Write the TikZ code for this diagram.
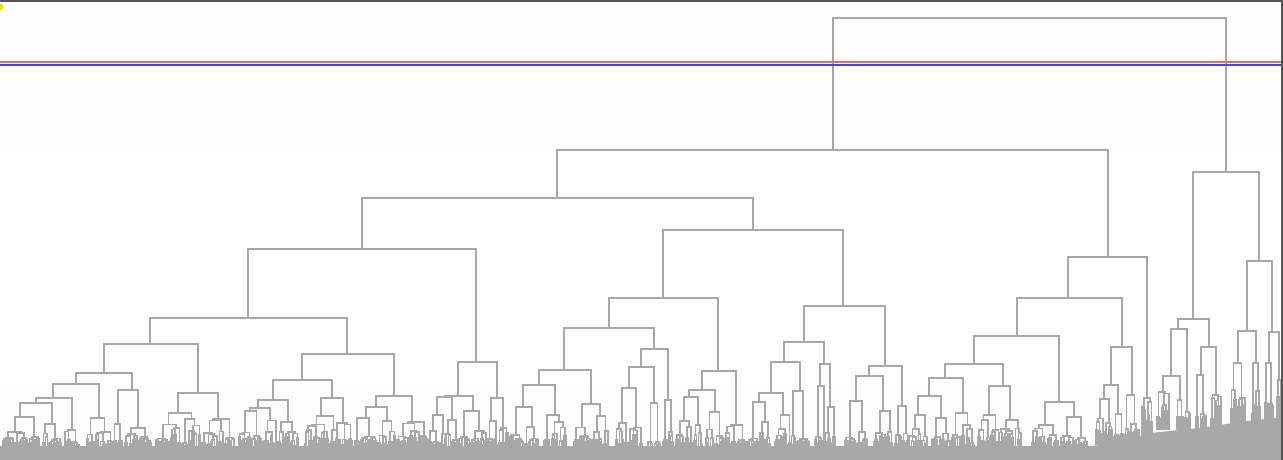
\documentclass[tikz,border=0pt]{standalone}
\usepackage{tikz}
\definecolor{lg}{RGB}{168,168,168}
\definecolor{frame}{RGB}{85,85,85}
\definecolor{cutblue}{RGB}{70,70,215}
\definecolor{cutred}{RGB}{230,110,110}
\tikzset{dl/.style={draw=lg, line width=1.7pt}}
\def\dbot{450}\def\dk{7}\def\dleaf{2.4}
\newcommand\dbr[5]{\draw[dl] (#1,#4) -- (#1,#3) -- (#2,#3) -- (#2,#5);}
\newcommand\dheight[3]{%
  \ifdim#2pt<\dleaf pt \edef#1{\dbot}\else
  \pgfmathsetmacro#1{min(max(#3+1.5, \dbot-\dk*sqrt(#2)*(0.4+0.8*rnd)), \dbot-1)}\fi}
\newcommand\dtree[3]{%
  \begingroup
  \pgfmathsetmacro\dW{#2-(#1)}%
  \pgfmathsetmacro\dS{#1+(0.25+0.5*rnd)*\dW}%
  \pgfmathsetmacro\dCa{(#1+\dS)/2}%
  \pgfmathsetmacro\dCb{(\dS+#2)/2}%
  \pgfmathsetmacro\dWa{\dS-(#1)}%
  \pgfmathsetmacro\dWb{#2-\dS}%
  \dheight\dYa\dWa{#3}%
  \dheight\dYb\dWb{#3}%
  \draw[dl] (\dCa,\dYa) -- (\dCa,#3) -- (\dCb,#3) -- (\dCb,\dYb);
  \ifdim\dWa pt<\dleaf pt\else \edef\dnext{\noexpand\dtree{#1}{\dS}{\dYa}}\dnext\fi
  \ifdim\dWb pt<\dleaf pt\else \edef\dnext{\noexpand\dtree{\dS}{#2}{\dYb}}\dnext\fi
  \endgroup}
\newcommand\dgen[3]{\pgfmathsetmacro\dgl{#1-#2}\pgfmathsetmacro\dgr{#1+#2}%
  \edef\dnext{\noexpand\dtree{\dgl}{\dgr}{#3}}\dnext}
\begin{document}
\begin{tikzpicture}[x=1pt,y=-1pt]
\pgfmathsetseed{7}
\useasboundingbox (0,0) rectangle (1283,460);
\fill[white] (0,0) rectangle (1283,460);
\fill[black!1.2] (0,0) rectangle (1283,152);
\fill[black!1] (0,385) rectangle (1283,460);
% upper structure
\dbr{833}{1226}{18}{150}{172}
\dbr{557}{1108}{150}{198}{257}
\dbr{362}{753}{198}{249}{230}
\dbr{248}{476}{249}{318}{362}
\dbr{150}{347}{318}{344}{354}
\dbr{104}{198}{344}{373}{393}
\dbr{76}{132}{373}{384}{390}
\dbr{53}{99}{384}{398}{418}
\dbr{36}{72}{398}{403}{430}
\dbr{20}{52}{403}{417}{424}
\dgen{21}{19}{417}
\dgen{52}{10}{424}
\dgen{72}{8}{430}
\dgen{100}{14}{418}
\dgen{132}{20}{390}
\dbr{178}{218}{393}{413}{419}
\dgen{178}{23}{413}
\dgen{218}{17}{419}
\dbr{302}{394}{354}{380}{396}
\dbr{273}{332}{380}{400}{398}
\dbr{258}{288}{400}{408}{422}
\dgen{258}{20}{408}
\dgen{288}{11}{422}
\dbr{321}{343}{398}{416}{423}
\dgen{321}{17}{416}
\dgen{343}{10}{423}
\dbr{376}{412}{396}{407}{422}
\dbr{366}{387}{407}{418}{421}
\dgen{366}{12}{418}
\dgen{387}{9}{421}
\dgen{412}{16}{422}
\dbr{458}{497}{362}{396}{398}
\dbr{445}{473}{396}{397}{411}
\dbr{437}{452}{397}{415}{420}
\dgen{437}{10}{415}
\dgen{452}{8}{420}
\dgen{473}{15}{411}
\dgen{497}{12}{398}
\dbr{663}{843}{230}{298}{306}
\dbr{609}{718}{298}{328}{371}
\dbr{564}{654}{328}{370}{349}
\dbr{539}{591}{370}{385}{404}
\dbr{523}{555}{385}{407}{415}
\dgen{523}{16}{407}
\dgen{555}{12}{415}
\dgen{591}{18}{404}
\dbr{641}{668}{349}{367}{400}
\dbr{629}{654}{367}{388}{403}
\dgen{629}{14}{388}
\dgen{654}{7}{403}
\dgen{668}{6}{400}
\dbr{702}{736}{371}{390}{425}
\dbr{689}{715}{390}{397}{412}
\dgen{689}{14}{397}
\dgen{715}{10}{412}
\dgen{736}{12}{425}
\dbr{804}{885}{306}{342}{366}
\dbr{784}{824}{342}{362}{364}
\dbr{771}{800}{362}{393}{391}
\dbr{759}{783}{393}{402}{415}
\dgen{759}{12}{402}
\dgen{783}{9}{415}
\dgen{800}{10}{391}
\dbr{820}{830}{364}{386}{407}
\dgen{820}{6}{386}
\dgen{830}{6}{407}
\dbr{869}{902}{366}{376}{406}
\dbr{856}{883}{376}{401}{411}
\dgen{856}{12}{401}
\dgen{883}{10}{411}
\dgen{902}{8}{406}
\dbr{1068}{1147}{257}{298}{398}
\dbr{1017}{1122}{298}{336}{347}
\dbr{974}{1059}{336}{364}{402}
\dbr{945}{1003}{364}{378}{386}
\dbr{929}{963}{378}{396}{413}
\dbr{918}{941}{396}{415}{418}
\dgen{918}{10}{415}
\dgen{941}{10}{418}
\dgen{963}{12}{413}
\dbr{989}{1010}{386}{415}{420}
\dgen{989}{12}{415}
\dgen{1010}{12}{420}
\dbr{1045}{1074}{402}{425}{417}
\dgen{1045}{14}{425}
\dgen{1074}{14}{417}
\def\dbot{445}\def\dk{9}
\dbr{1111}{1132}{347}{385}{395}
\dbr{1104}{1118}{385}{399}{414}
\dgen{1104}{9}{399}
\dgen{1118}{6}{414}
\dgen{1132}{8}{395}
\def\dbot{436}\def\dk{11}
\dgen{1147}{6}{398}
\def\dbot{430}\def\dk{12}
\dbr{1193}{1259}{172}{319}{261}
\dbr{1178}{1209}{319}{329}{347}
\dbr{1171}{1187}{329}{376}{412}
\dbr{1163}{1180}{376}{392}{400}
\dgen{1163}{7}{392}
\dgen{1180}{4}{400}
\dgen{1187}{4}{412}
\dbr{1201}{1216}{347}{375}{395}
\dgen{1201}{6}{375}
\dgen{1216}{6}{395}
\def\dbot{424}
\dbr{1247}{1272}{261}{331}{332}
\dbr{1238}{1256}{331}{363}{363}
\dgen{1238}{8}{363}
\dgen{1256}{5}{363}
\dbr{1269}{1279}{332}{363}{380}
\dgen{1269}{5}{363}
\dgen{1279}{3}{380}
% dense bottom band
\fill[lg] (0,446) -- (1090,446) -- (1120,443) -- (1150,433) -- (1200,428) -- (1240,422) -- (1283,417) -- (1283,460) -- (0,460) -- cycle;
% cut lines
\draw[cutred, line width=2pt] (0,62.5) -- (1283,62.5);
\draw[cutblue, line width=2.6pt] (0,65.1) -- (1283,65.1);
% frame
\fill[frame] (0,0) rectangle (1283,2);
\fill[frame] (1280.5,0) rectangle (1283,460);
\fill[yellow!80!orange] (0,7) circle (3.5);
\end{tikzpicture}
\end{document}
